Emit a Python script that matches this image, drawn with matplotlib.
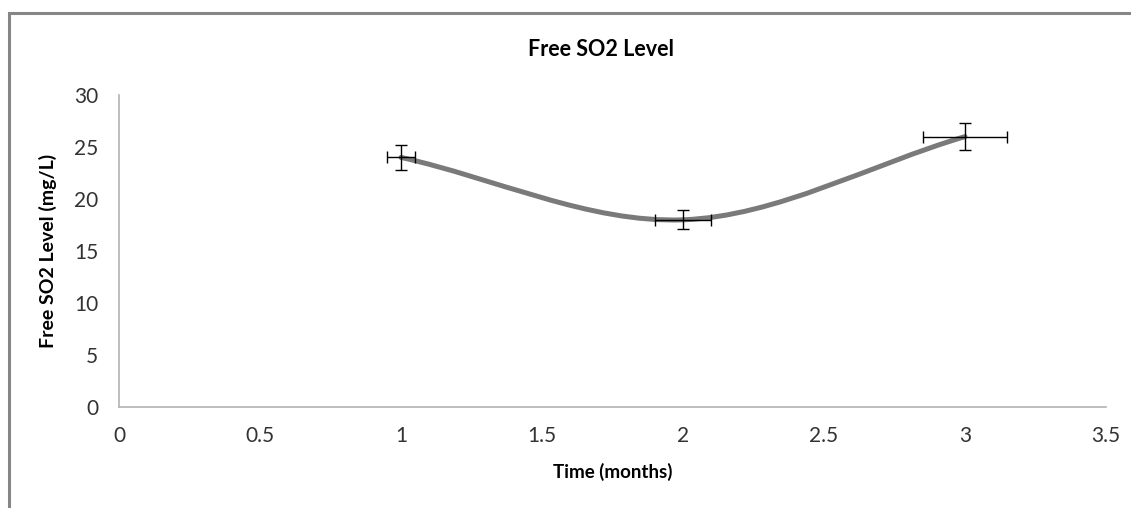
import numpy as np
import matplotlib.pyplot as plt
from matplotlib.path import Path
from matplotlib.patches import PathPatch, Rectangle

plt.rcParams['font.family'] = ['Lato', 'DejaVu Sans']

# data
months = [1, 2, 3]
free_so2 = [24, 18, 26]
so2_err = [1.2, 0.9, 1.3]
month_err = [0.05, 0.1, 0.15]

x_ticks = [0, 0.5, 1, 1.5, 2, 2.5, 3, 3.5]
x_tick_labels = ['0', '0.5', '1', '1.5', '2', '2.5', '3', '3.5']
y_ticks = [0, 5, 10, 15, 20, 25, 30]


def smooth_path(xs, ys):
    # Excel style smoothed line: cubic bezier through the points
    pts = np.column_stack([xs, ys]).astype(float)
    n = len(pts)
    tang = []
    for i in range(n):
        if i == 0:
            t = pts[1] - pts[0]
        elif i == n - 1:
            t = pts[-1] - pts[-2]
        else:
            t = (pts[i + 1] - pts[i - 1]) / 2
        tang.append(t)
    verts = [pts[0]]
    codes = [Path.MOVETO]
    for i in range(n - 1):
        verts += [pts[i] + tang[i] / 3, pts[i + 1] - tang[i + 1] / 3, pts[i + 1]]
        codes += [Path.CURVE4] * 3
    return Path(verts, codes)


fig = plt.figure(figsize=(11.31, 5.08), dpi=100)
ax = fig.add_axes([119 / 1131, 1 - 407 / 508, (1106 - 119) / 1131, (407 - 95) / 508])

# outer chart frame (only top and left visible in the reference)
fig.patches.append(Rectangle((9 / 1131, -0.1), 1.2, 1 - 13 / 508 + 0.1,
                             transform=fig.transFigure, fill=False,
                             edgecolor='#868686', linewidth=2.2))

ax.add_patch(PathPatch(smooth_path(months, free_so2), facecolor='none',
                       edgecolor='#7a7a7a', linewidth=3.6, capstyle='round', zorder=2))
ax.errorbar(months, free_so2, yerr=so2_err, xerr=month_err, fmt='none',
            ecolor='black', elinewidth=1, capsize=4, capthick=1, zorder=3)

ax.set_xlim(0, 3.5)
ax.set_ylim(0, 30)
ax.set_xticks(x_ticks)
ax.set_xticklabels(x_tick_labels)
ax.set_yticks(y_ticks)
ax.tick_params(length=0, labelsize=15, colors='#333333')
ax.tick_params(axis='y', pad=15)
ax.tick_params(axis='x', pad=14)
for s in ['top', 'right']:
    ax.spines[s].set_visible(False)
for s in ['left', 'bottom']:
    ax.spines[s].set_color('#b3b3b3')
    ax.spines[s].set_linewidth(1.2)

fig.text(601 / 1131, 1 - 50 / 508, 'Free SO2 Level', fontsize=15.5, fontweight='bold',
         ha='center', va='center')
ax.set_xlabel('Time (months)', fontsize=13.5, fontweight='bold', labelpad=12)
ax.set_ylabel('Free SO2 Level (mg/L)', fontsize=14, fontweight='bold', labelpad=12)

fig.savefig('out.png', dpi=100)
